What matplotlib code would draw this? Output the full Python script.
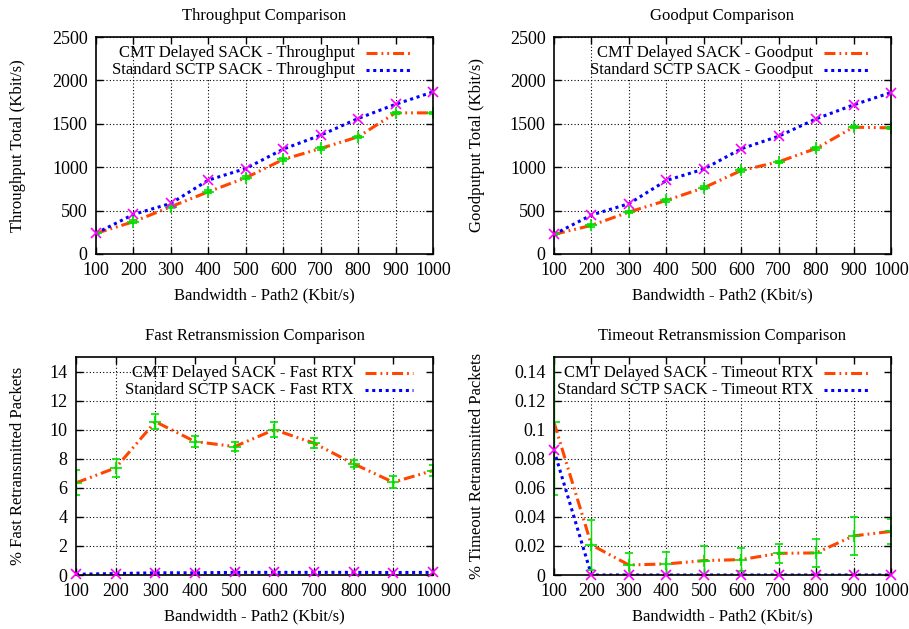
import numpy as np
import matplotlib
matplotlib.use('Agg')
import matplotlib.pyplot as plt
from matplotlib.patches import Rectangle

plt.rcParams['font.family'] = ['Liberation Serif', 'DejaVu Serif']
plt.rcParams['font.size'] = 12

bandwidth = [100, 200, 300, 400, 500, 600, 700, 800, 900, 1000]

# throughput (Kbit/s)
thr_cmt = [238, 372, 545, 717, 878, 1089, 1216, 1350, 1626, 1626]
thr_cmt_err = [12, 15, 15, 15, 15, 18, 15, 15, 15, 10]
thr_std = [238, 456, 583, 851, 985, 1208, 1369, 1561, 1725, 1867]

# goodput (Kbit/s)
good_cmt = [226, 330, 483, 617, 763, 962, 1062, 1216, 1461, 1453]
good_cmt_err = [12, 15, 15, 15, 15, 18, 15, 15, 15, 10]
good_std = [226, 449, 579, 847, 978, 1212, 1357, 1557, 1718, 1860]

# fast retransmissions (%)
fast_cmt = [6.34, 7.37, 10.55, 9.18, 8.84, 10.0, 9.07, 7.65, 6.38, 7.19]
fast_cmt_err = [0.86, 0.6, 0.5, 0.4, 0.3, 0.5, 0.35, 0.25, 0.4, 0.35]
fast_std = [0.05, 0.1, 0.15, 0.15, 0.18, 0.18, 0.18, 0.18, 0.17, 0.18]

# timeout retransmissions (%)
tout_cmt = [0.105, 0.0207, 0.0069, 0.0076, 0.0099, 0.0106, 0.0149, 0.0152, 0.0269, 0.030]
tout_cmt_err = [0.05, 0.017, 0.008, 0.0085, 0.0098, 0.008, 0.0065, 0.0095, 0.0128, 0.0085]
tout_std = [0.0857, 0, 0, 0, 0, 0, 0, 0, 0, 0]

ORANGE = '#ff4500'
BLUE = '#0000ff'
GREEN = '#00e000'
MAGENTA = '#ff00ff'
DASHDOT = [3.6, 1.3, 0.6, 1.3, 0.6, 1.3]
DOTS = [1.0, 1.2]


def draw_panel(ax, cmt, cmt_err, std, ylim, yticks, title, ylabel, names,
               ylab_x, leg_text_x, leg_line, leg_rows, box):
    ax.set_xlim(100, 1000)
    ax.set_ylim(*ylim)
    ax.set_xticks(bandwidth)
    ax.set_yticks(yticks)
    if isinstance(yticks[0], float):
        ax.set_yticklabels([('%g' % t) for t in yticks])
    # grid
    for v in bandwidth[1:-1]:
        ax.axvline(v, ls=(0, (1, 2)), color='k', lw=0.8, zorder=0.5)
    for v in yticks[1:]:
        ax.axhline(v, ls=(0, (1, 2)), color='k', lw=0.8, zorder=0.5)
    # legend background
    ax.add_patch(Rectangle((box[0], box[1]), box[2], box[3], transform=ax.transAxes,
                           facecolor='white', edgecolor='none', zorder=0.8))

    ax.plot(bandwidth, cmt, color=ORANGE, lw=2.2, dashes=DASHDOT, zorder=2)
    ax.errorbar(bandwidth, cmt, yerr=cmt_err, fmt='+', color=GREEN, ms=8, mew=1.2,
                elinewidth=1.0, capsize=3, capthick=1.0, zorder=2.2)
    ax.plot(bandwidth, std, color=BLUE, lw=2.2, dashes=DOTS, zorder=2)
    ax.plot(bandwidth, std, ls='none', marker='x', color=MAGENTA, ms=7, mew=1.2,
            zorder=3, clip_on=False)

    # legend
    ax.text(leg_text_x, leg_rows[0], names[0], transform=ax.transAxes,
            ha='right', va='center', zorder=4)
    ax.text(leg_text_x, leg_rows[1], names[1], transform=ax.transAxes,
            ha='right', va='center', zorder=4)
    ax.plot(leg_line, [leg_rows[0]] * 2, transform=ax.transAxes, color=ORANGE,
            lw=2.2, dashes=DASHDOT, zorder=4)
    ax.plot(leg_line, [leg_rows[1]] * 2, transform=ax.transAxes, color=BLUE,
            lw=2.2, dashes=DOTS, zorder=4)

    ax.set_title(title, pad=12, fontsize=12)
    ax.set_xlabel('Bandwidth - Path2 (Kbit/s)')
    ax.set_ylabel(ylabel)
    ax.xaxis.label.set_va('center')
    ax.yaxis.label.set_va('center')
    ax.xaxis.set_label_coords(0.5, -0.19)
    ax.yaxis.set_label_coords(ylab_x, 0.5)
    ax.tick_params(axis='both', direction='in', length=5, width=1.0,
                   top=True, right=True, pad=6, labelsize=13)
    for s in ax.spines.values():
        s.set_linewidth(1.2)


fig = plt.figure(figsize=(9.09, 6.29), dpi=100)
W, H = 909, 629


def axes_px(l, t, r, b):
    return fig.add_axes([l / W, 1 - b / H, (r - l) / W, (b - t) / H])


ax1 = axes_px(96, 37, 433, 254)
draw_panel(ax1, thr_cmt, thr_cmt_err, thr_std, (0, 2500), [0, 500, 1000, 1500, 2000, 2500],
           'Throughput Comparison', 'Throughput Total (Kbit/s)',
           ['CMT Delayed SACK - Throughput', 'Standard SCTP SACK - Throughput'],
           -0.232, 0.769, [0.80, 0.94], [0.926, 0.848], (0.12, 0.81, 0.87, 0.18))

ax2 = axes_px(554, 37, 891, 254)
draw_panel(ax2, good_cmt, good_cmt_err, good_std, (0, 2500), [0, 500, 1000, 1500, 2000, 2500],
           'Goodput Comparison', 'Goodputput Total (Kbit/s)',
           ['CMT Delayed SACK - Goodput', 'Standard SCTP SACK - Goodput'],
           -0.228, 0.769, [0.80, 0.94], [0.926, 0.848], (0.20, 0.81, 0.79, 0.18))

ax3 = axes_px(76, 357, 433, 575)
draw_panel(ax3, fast_cmt, fast_cmt_err, fast_std, (0, 15), [0, 2, 4, 6, 8, 10, 12, 14],
           'Fast Retransmission Comparison', '% Fast Retransmitted Packets',
           ['CMT Delayed SACK - Fast RTX', 'Standard SCTP SACK - Fast RTX'],
           -0.162, 0.779, [0.81, 0.944], [0.927, 0.849], (0.26, 0.81, 0.73, 0.18))

ax4 = axes_px(554, 357, 891, 575)
draw_panel(ax4, tout_cmt, tout_cmt_err, tout_std, (0, 0.15),
           [0.0, 0.02, 0.04, 0.06, 0.08, 0.1, 0.12, 0.14],
           'Timeout Retransmission Comparison', '% Timeout Retransmitted Packets',
           ['CMT Delayed SACK - Timeout RTX', 'Standard SCTP SACK - Timeout RTX'],
           -0.228, 0.769, [0.80, 0.94], [0.927, 0.849], (0.01, 0.81, 0.98, 0.18))

fig.savefig('out.png', dpi=100)
